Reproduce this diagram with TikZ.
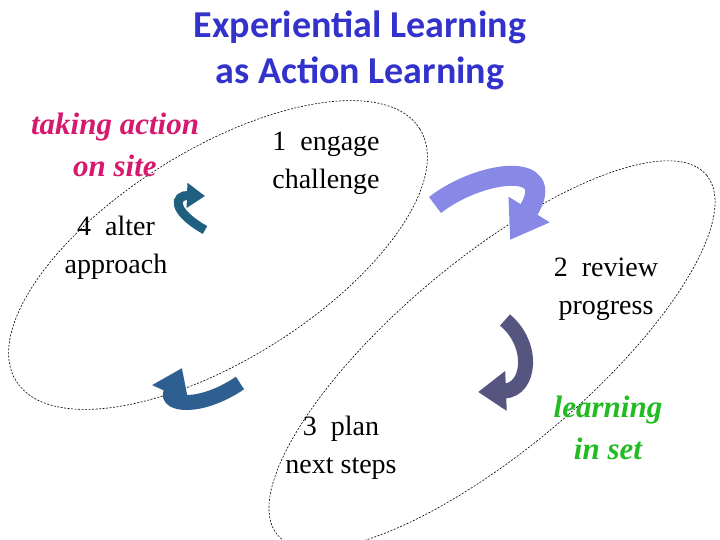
\documentclass[tikz,border=0pt]{standalone}
\usepackage{fontspec}
\setmainfont{Liberation Serif}
\newfontfamily\titlefont{Carlito}
\usetikzlibrary{arrows.meta, positioning}
\definecolor{titleblue}{HTML}{3333CC}
\definecolor{sitepink}{HTML}{D6186E}
\definecolor{setgreen}{HTML}{22BB22}
\definecolor{arrowone}{HTML}{8888E6}
\definecolor{arrowtwo}{HTML}{55557F}
\definecolor{arrowthree}{HTML}{2F5F90}
\definecolor{arrowfour}{HTML}{1F5F80}

\begin{document}
\begin{tikzpicture}[x=1pt, y=-1pt,
    title/.style={font=\titlefont\bfseries\fontsize{38}{46}\selectfont, text=titleblue, align=center},
    step label/.style={font=\fontsize{28}{38}\selectfont, align=center},
    place label/.style={font=\bfseries\itshape\fontsize{31}{42}\selectfont, align=center},
    loop/.style={line width=0.6pt, dash pattern=on 2pt off 1.5pt}
]
\useasboundingbox (0,0) rectangle (720,540);

% Title
\node[title] (head) at (360,50) {Experiential Learning\\as Action Learning};

% Loops
\draw[loop] (218,255) ellipse [x radius=238, y radius=105, rotate=32];
\draw[loop] (492,355) ellipse [x radius=280, y radius=95, rotate=40];

% Place labels
\node[place label, text=sitepink] (site) at (115,145) {taking action\\on site};
\node[place label, text=setgreen] (set) at (608,428) {learning\\in set};

% Steps
\node[step label] (engage) at (326,163) {1~ engage\\challenge};
\node[step label] (review) at (606,289) {2~ review\\progress};
\node[step label] (plan) at (341,448) {3~ plan\\next steps};
\node[step label] (alter) at (116,248) {4~ alter\\approach};

% Turning arrows
\draw[line width=20pt, arrowone, -{Triangle[width=46pt, length=36pt]}] (435,205) .. controls (480,170) and (560,160) .. (510,240);
\draw[line width=15pt, arrowtwo, -{Triangle[width=38pt, length=28pt]}] (505,320) .. controls (535,345) and (530,390) .. (478,392);
\draw[line width=15pt, arrowthree, -{Triangle[width=38pt, length=28pt]}] (240,383) .. controls (200,410) and (165,405) .. (182,368);
\draw[line width=9pt, arrowfour, -{Triangle[width=24pt, length=18pt]}] (205,230) .. controls (170,210) and (175,195) .. (205,196);
\end{tikzpicture}
\end{document}
